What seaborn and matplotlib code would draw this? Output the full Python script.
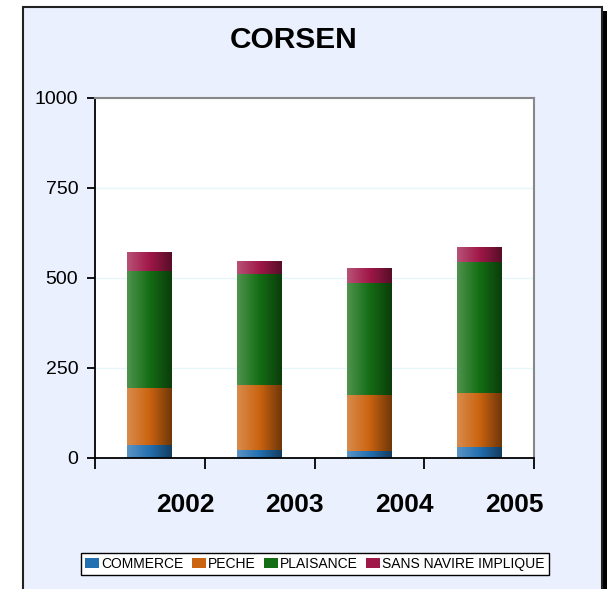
import matplotlib
matplotlib.use('Agg')
import matplotlib.pyplot as plt
import numpy as np
import seaborn as sns
from matplotlib.colors import LinearSegmentedColormap, to_rgb
from matplotlib.patches import Rectangle, Patch

# Data
years = ['2002', '2003', '2004', '2005']
series = ['COMMERCE', 'PECHE', 'PLAISANCE', 'SANS NAVIRE IMPLIQUE']
commerce = [36, 22, 19, 30]
peche = [159, 181, 156, 150]
plaisance = [324, 309, 311, 365]
sans_navire = [53, 35, 42, 41]
colors = ['#2370b0', '#cb6410', '#146e14', '#a01848']

values = [commerce, peche, plaisance, sans_navire]

sns.set_style('white')
plt.rcParams['font.family'] = ['Liberation Sans', 'DejaVu Sans']
plt.rcParams['text.color'] = 'black'
plt.rcParams['xtick.color'] = 'black'
plt.rcParams['ytick.color'] = 'black'

fig = plt.figure(figsize=(6.12, 5.89), dpi=100, facecolor='white')

# framed background with drop shadow
fig.patches.append(Rectangle((27 / 612, 0), 580 / 612, 1 - 11 / 589, transform=fig.transFigure,
                             facecolor='black', edgecolor='none', zorder=-3))
fig.patches.append(Rectangle((23 / 612, -0.01), 579 / 612, 1 - 7 / 589 + 0.01, transform=fig.transFigure,
                             facecolor='#eaf0fd', edgecolor='#222222', linewidth=1.5, zorder=-2))

ax = fig.add_axes([95 / 612, 1 - 458 / 589, 439 / 612, 360 / 589])
ax.set_facecolor('white')

# stacked bars: draw cumulative totals from the top down
cum = np.cumsum(np.array(values), axis=0)
patch_color = []
for i in range(len(series) - 1, -1, -1):
    n_before = len(ax.patches)
    sns.barplot(x=years, y=cum[i], color=colors[i], width=0.41, saturation=1,
                ax=ax, zorder=2, linewidth=0)
    patch_color += [colors[i]] * (len(ax.patches) - n_before)


def shade(c):
    r = np.array(to_rgb(c))
    light = r + (1 - r) * 0.25
    dark = r * 0.55
    return LinearSegmentedColormap.from_list('g', [light, r, dark])


grad = np.linspace(0, 1, 64).reshape(1, -1)
for p, c in zip(list(ax.patches), patch_color):
    x0, y0 = p.get_x(), p.get_y()
    w, h = p.get_width(), p.get_height()
    im = ax.imshow(grad, cmap=shade(c), aspect='auto', extent=[x0, x0 + w, y0, y0 + h],
                   zorder=2.5, interpolation='bicubic')
    im.set_clip_path(p)

ax.set_xlim(-0.5, 3.5)
ax.set_ylim(0, 1000)
ax.set_yticks([0, 250, 500, 750, 1000])
ax.set_yticklabels(['0', '250', '500', '750', '1000'], fontsize=14)
ax.yaxis.grid(True, color='#e6f6fb', linewidth=1, zorder=0)
ax.set_axisbelow(True)

ax.set_xticks([-0.5, 0.5, 1.5, 2.5, 3.5])
ax.set_xticklabels([])
ax.set_xticks([i + 0.32 for i in range(len(years))], minor=True)
ax.set_xticklabels(years, minor=True, fontsize=19, fontweight='bold')
ax.tick_params(axis='x', which='major', direction='out', length=8, width=1.3, color='black', bottom=True)
ax.tick_params(axis='x', which='minor', length=0, pad=25)
ax.tick_params(axis='y', direction='out', length=6, width=1.3, color='black', left=True, pad=6)
ax.set_xlabel('')
ax.set_ylabel('')

for s in ['left', 'bottom']:
    ax.spines[s].set_color('black')
    ax.spines[s].set_linewidth(1.3)
for s in ['top', 'right']:
    ax.spines[s].set_color('#888888')
    ax.spines[s].set_linewidth(1.5)
    ax.spines[s].set_visible(True)

fig.text(0.479, 0.932, 'CORSEN', ha='center', va='center', fontsize=21.5, fontweight='bold')

handles = [Patch(facecolor=c, edgecolor='none') for c in colors]
leg = fig.legend(handles, series, loc='center', bbox_to_anchor=(315 / 612, 1 - 564 / 589), ncol=4,
                 fontsize=10, frameon=True, fancybox=False, handlelength=1.0, handleheight=0.8,
                 handletextpad=0.15, columnspacing=0.6, borderpad=0.3)
leg.get_frame().set_edgecolor('black')
leg.get_frame().set_linewidth(1.0)
leg.get_frame().set_facecolor('white')
leg.get_frame().set_alpha(1)

fig.savefig('out.png', dpi=100, facecolor=fig.get_facecolor())
